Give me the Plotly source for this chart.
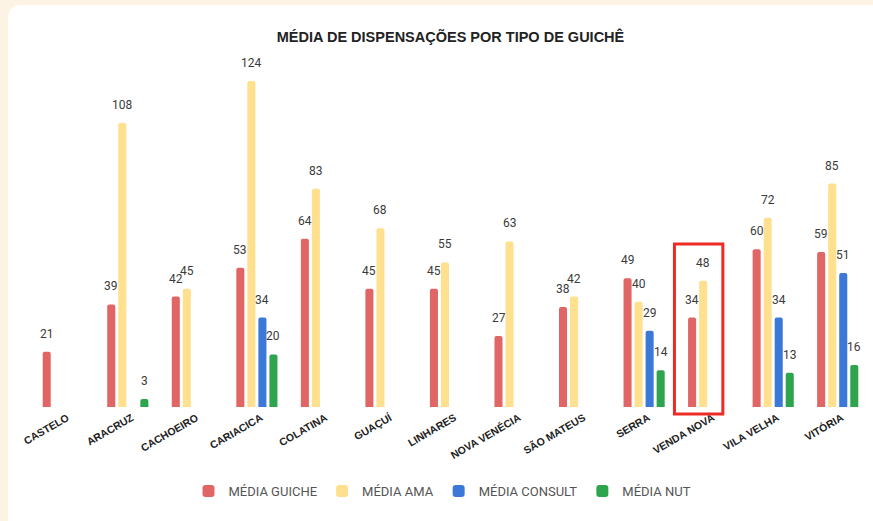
import plotly.graph_objects as go

# data
cidades = [
    "CASTELO", "ARACRUZ", "CACHOEIRO", "CARIACICA", "COLATINA", "GUAÇUÍ",
    "LINHARES", "NOVA VENÉCIA", "SÃO MATEUS", "SERRA", "VENDA NOVA",
    "VILA VELHA", "VITÓRIA",
]
media_guiche = [21, 39, 42, 53, 64, 45, 45, 27, 38, 49, 34, 60, 59]
media_ama = [None, 108, 45, 124, 83, 68, 55, 63, 42, 40, 48, 72, 85]
media_consult = [None, None, None, 34, None, None, None, None, None, 29, None, 34, 51]
media_nut = [None, 3, None, 20, None, None, None, None, None, 14, None, 13, 16]

series = [
    ("MÉDIA GUICHE", media_guiche, "#e06666"),
    ("MÉDIA AMA", media_ama, "#ffe08f"),
    ("MÉDIA CONSULT", media_consult, "#3c78d8"),
    ("MÉDIA NUT", media_nut, "#2ea44f"),
]

W, H = 873, 521
ML, MR, MT, MB = 31, 3, 60, 114
BAR_PITCH = 11  # px between bars of one group


def px2paper(x, y):
    # pixel position -> paper coordinates
    return (x - ML) / (W - ML - MR), (H - MB - y) / (H - MT - MB)


def rounded_rect(x0, y0, x1, y1, r):
    a = px2paper
    p = [
        "M %f,%f" % a(x0 + r, y0),
        "L %f,%f" % a(x1 - r, y0),
        "Q %f,%f %f,%f" % (*a(x1, y0), *a(x1, y0 + r)),
        "L %f,%f" % a(x1, y1 - r),
        "Q %f,%f %f,%f" % (*a(x1, y1), *a(x1 - r, y1)),
        "L %f,%f" % a(x0 + r, y1),
        "Q %f,%f %f,%f" % (*a(x0, y1), *a(x0, y1 - r)),
        "L %f,%f" % a(x0, y0 + r),
        "Q %f,%f %f,%f" % (*a(x0, y0), *a(x0 + r, y0)),
    ]
    return " ".join(p) + " Z"


fig = go.Figure()
for i, (name, vals, color) in enumerate(series):
    fig.add_trace(
        go.Bar(
            name=name,
            x=cidades,
            y=vals,
            marker=dict(color=color, line=dict(width=0), cornerradius=2),
            hoverinfo="x+y+name",
        )
    )
    # value labels above each bar
    for cat, v in zip(cidades, vals):
        if v is None:
            continue
        fig.add_annotation(
            x=cat,
            y=v,
            text=str(v),
            showarrow=False,
            xshift=(i - 1.5) * BAR_PITCH,
            yanchor="bottom",
            yshift=9,
            font=dict(family="Roboto, Arial, sans-serif", size=12, color="#3a3a3a"),
        )

fig.update_layout(
    width=W,
    height=H,
    margin=dict(l=ML, r=MR, t=MT, b=MB),
    paper_bgcolor="#fdf3e4",
    plot_bgcolor="rgba(0,0,0,0)",
    barmode="group",
    bargap=0.316,
    bargroupgap=0.27,
    title=dict(
        text="<b>MÉDIA DE DISPENSAÇÕES POR TIPO DE GUICHÊ</b>",
        x=0.5,
        xref="paper",
        y=1 - 37 / H,
        yanchor="middle",
        font=dict(family="Arial, Liberation Sans, sans-serif", size=14.5, color="#222222"),
    ),
    xaxis=dict(
        tickangle=-30,
        showgrid=False,
        showline=False,
        zeroline=False,
        ticks="",
        ticklabelshift=4,
        ticklabelstandoff=2,
        tickfont=dict(family="Arial, Liberation Sans, sans-serif", size=10.5, color="#222222", weight="bold"),
    ),
    yaxis=dict(range=[0, 132], visible=False),
    legend=dict(
        orientation="h",
        x=0.5 - 8 / (W - ML - MR),
        xanchor="center",
        y=-84 / (H - MT - MB),
        yanchor="middle",
        bgcolor="rgba(0,0,0,0)",
        font=dict(family="Roboto, Arial, sans-serif", size=13, color="#555555"),
        itemwidth=30,
    ),
    showlegend=True,
)

fig.add_shape(
    type="path",
    path=rounded_rect(8, 5, 885, 535, 14),
    xref="paper",
    yref="paper",
    fillcolor="white",
    line=dict(width=0),
    layer="below",
)

# highlight around VENDA NOVA
y_top = px2paper(0, 244)[1]
y_bot = px2paper(0, 414)[1]
fig.add_shape(
    type="rect",
    xref="x",
    yref="paper",
    x0=9.47,
    x1=10.22,
    y0=y_bot,
    y1=y_top,
    line=dict(color="#ee2a24", width=3),
    fillcolor="rgba(0,0,0,0)",
)

fig.write_html(
    "out.html",
    config={"displayModeBar": False},
    post_script="document.body.style.margin='0';",
)
